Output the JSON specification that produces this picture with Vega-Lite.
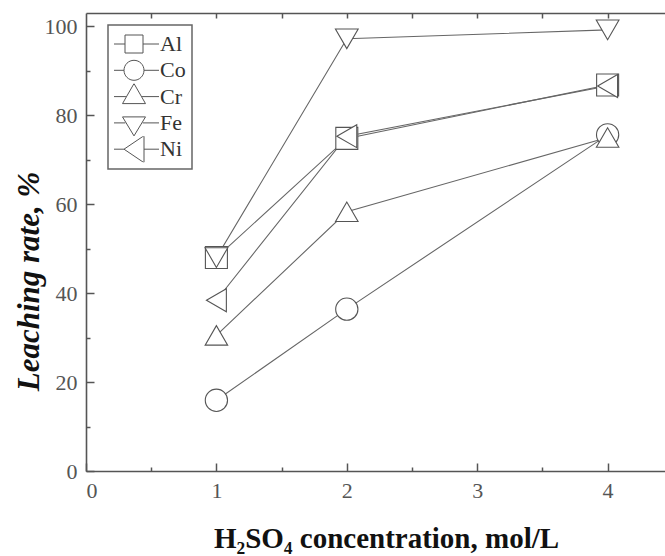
{
  "$schema": "https://vega.github.io/schema/vega-lite/v6.json",
  "autosize": {"type": "none"},
  "width": 579,
  "height": 458,
  "padding": {"left": 86, "top": 13, "right": 0, "bottom": 85},
  "background": "white",
  "data": {
    "values": [
      {"metal": "Al", "conc": 1, "rate": 48},
      {"metal": "Al", "conc": 2, "rate": 74.8},
      {"metal": "Al", "conc": 4, "rate": 86.8},
      {"metal": "Co", "conc": 1, "rate": 15.9},
      {"metal": "Co", "conc": 2, "rate": 36.4},
      {"metal": "Co", "conc": 4, "rate": 75.6},
      {"metal": "Cr", "conc": 1, "rate": 30.5},
      {"metal": "Cr", "conc": 2, "rate": 58.3},
      {"metal": "Cr", "conc": 4, "rate": 75},
      {"metal": "Fe", "conc": 1, "rate": 48},
      {"metal": "Fe", "conc": 2, "rate": 97.2},
      {"metal": "Fe", "conc": 4, "rate": 99.2},
      {"metal": "Ni", "conc": 1, "rate": 38.4},
      {"metal": "Ni", "conc": 2, "rate": 75.3},
      {"metal": "Ni", "conc": 4, "rate": 86.6}
    ]
  },
  "layer": [
    {
      "mark": {"type": "line", "color": "#666", "strokeWidth": 1.1},
      "encoding": {
        "x": {
          "field": "conc", "type": "quantitative",
          "scale": {"domain": [0, 4.44], "nice": false, "zero": false},
          "axis": {
            "orient": "bottom", "values": [0, 1, 2, 3, 4], "tickSize": -8,
            "labelPadding": 17, "format": "d",
            "labelFont": "Liberation Serif", "labelFontSize": 22, "labelColor": "#555",
            "title": "H₂SO₄ concentration, mol/L",
            "titleFont": "Liberation Serif", "titleFontSize": 29, "titleFontWeight": "bold",
            "titleColor": "#111", "titleX": 300, "titleY": 76, "titleBaseline": "alphabetic",
            "titleAlign": "center"
          }
        },
        "y": {
          "field": "rate", "type": "quantitative",
          "scale": {"domain": [0, 103], "nice": false, "zero": false},
          "axis": {
            "orient": "left", "values": [0, 20, 40, 60, 80, 100], "tickSize": -8,
            "labelPadding": 17,
            "labelFont": "Liberation Serif", "labelFontSize": 22, "labelColor": "#555",
            "title": "Leaching rate,   %",
            "titleFont": "Liberation Serif", "titleFontSize": 31, "titleFontWeight": "bold",
            "titleFontStyle": "italic", "titleColor": "#111",
            "titleX": -48, "titleY": 268, "titleAngle": -90, "titleBaseline": "alphabetic",
            "titleAlign": "center"
          }
        },
        "detail": {"field": "metal"}
      }
    },
    {
      "mark": {"type": "point", "filled": true, "fill": "white", "stroke": "#555", "strokeWidth": 1.1, "opacity": 1},
      "encoding": {
        "x": {
          "field": "conc", "type": "quantitative",
          "axis": {"orient": "bottom", "values": [0.5, 1.5, 2.5, 3.5], "tickSize": -4, "labels": false, "domain": false, "title": null}
        },
        "y": {
          "field": "rate", "type": "quantitative",
          "axis": {"orient": "left", "values": [10, 30, 50, 70, 90], "tickSize": -4, "labels": false, "domain": false, "title": null}
        },
        "shape": {
          "field": "metal", "type": "nominal",
          "scale": {"domain": ["Al", "Co", "Cr", "Fe", "Ni"], "range": ["square", "circle", "triangle-up", "triangle-down", "triangle-left"]},
          "legend": null
        },
        "size": {
          "field": "metal", "type": "nominal",
          "scale": {"domain": ["Al", "Co", "Cr", "Fe", "Ni"], "range": [484, 529, 676, 625, 729]},
          "legend": null
        }
      }
    },
    {
      "transform": [{"filter": "false"}],
      "mark": {"type": "point", "filled": false, "color": "#555", "strokeWidth": 1, "opacity": 1},
      "encoding": {
        "x": {
          "field": "conc", "type": "quantitative",
          "axis": {"orient": "top", "values": [0.5, 1, 1.5, 2, 2.5, 3, 3.5, 4], "tickSize": -5, "labels": false, "domain": true, "title": null}
        },
        "y": {"field": "rate", "type": "quantitative", "axis": null},
        "shape": {
          "field": "metal", "type": "nominal",
          "scale": {
            "domain": ["Al", "Co", "Cr", "Fe", "Ni"],
            "range": [
              "M-1.2,0H-0.0M1.8,0H3.4M0,-0.9H1.8V0.9H0Z",
              "M-1.2,0H-0.1M1.9,0H3.4M-0.1,0A1,1 0 1,0 1.9,0A1,1 0 1,0 -0.1,0Z",
              "M-1.2,0H0.095M1.705,0H3.4M0.9,-1.3L2.05,0.7H-0.25Z",
              "M-1.2,0H0.0375M1.7625,0H3.4M-0.25,-0.6H2.05L0.9,1.3Z",
              "M-1.2,0H-0.1M1.9,0H3.4M-0.1,0L1.9,-1.35V1.35Z"
            ]
          },
          "legend": {
            "orient": "none", "legendX": 22, "legendY": 12,
            "title": null, "padding": 6,
            "strokeColor": "#666", "fillColor": "white",
            "symbolSize": 400, "symbolOpacity": 1,
            "symbolStrokeColor": "#555", "symbolStrokeWidth": 1,
            "labelFont": "Liberation Serif", "labelFontSize": 22, "labelColor": "#333",
            "labelOffset": 24, "rowPadding": 0.3, "clipHeight": 26
          }
        }
      }
    }
  ],
  "resolve": {
    "scale": {"shape": "independent", "size": "independent"},
    "axis": {"x": "independent", "y": "independent"}
  },
  "config": {
    "view": {"stroke": null},
    "legend": {"strokeWidth": 1.5},
    "axis": {
      "grid": false,
      "domainColor": "#555", "domainWidth": 1.6,
      "tickColor": "#555", "tickWidth": 1.5,
      "labelFont": "Liberation Serif", "labelFontSize": 22, "labelColor": "#555"
    }
  }
}
